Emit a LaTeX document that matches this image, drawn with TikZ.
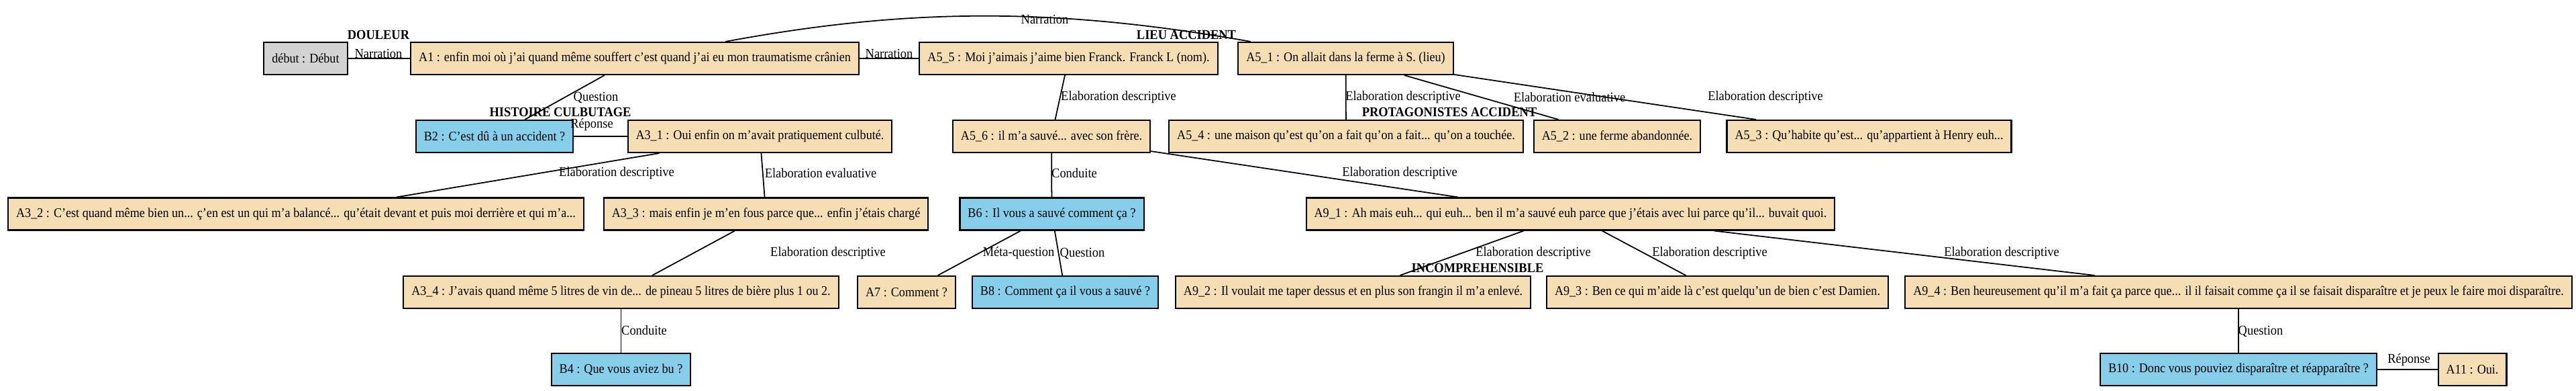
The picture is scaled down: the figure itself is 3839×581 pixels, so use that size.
\documentclass[tikz,border=0pt]{standalone}
\usepackage{fontspec}
\setmainfont{Liberation Serif}[FakeStretch=0.92]
\usetikzlibrary{positioning}
\definecolor{wheat}{HTML}{F5DEB3}
\definecolor{skyblue}{HTML}{87CEEB}
\definecolor{lgray}{HTML}{D3D3D3}
\tikzstyle{unit}=[rectangle, draw=black, line width=0.6pt, minimum height=0.48cm, inner xsep=0.12cm, inner ysep=0pt, font=\fontsize{5.6}{6}\selectfont]
\tikzstyle{arg}=[unit, fill=wheat]
\tikzstyle{qst}=[unit, fill=skyblue]
\tikzstyle{debutnode}=[unit, fill=lgray]
\tikzstyle{lbl}=[inner sep=0pt, font=\fontsize{5.7}{6}\selectfont]
\tikzstyle{tag}=[inner sep=0pt, font=\fontsize{5.7}{6}\selectfont\bfseries]
\tikzstyle{l1}=[line width=0.5pt]

\begin{document}
\begin{tikzpicture}[x=0.01cm, y=-0.01cm]
    \useasboundingbox (0,0) rectangle (3839,581);
    \node[debutnode] at (455.5,87) (debut) {début : Début};
    \node[arg] at (946,87) (a1) {A1 : enfin moi où j'ai quand même souffert c'est quand j'ai eu mon traumatisme crânien};
    \node[arg] at (1592.5,87) (a55) {A5\_5 : Moi j'aimais j’aime bien Franck. Franck L (nom).};
    \node[arg] at (2005.5,87) (a51) {A5\_1 : On allait dans la ferme à S. (lieu)};
    \node[qst] at (737,203) (b2) {B2 : C'est dû à un accident ?};
    \node[arg] at (1132.5,203) (a31) {A3\_1 : Oui enfin on m’avait pratiquement culbuté.};
    \node[arg] at (1567,203) (a56) {A5\_6 : il m'a sauvé... avec son frère.};
    \node[arg] at (2006,203) (a54) {A5\_4 : une maison qu’est qu'on a fait qu'on a fait... qu’on a touchée.};
    \node[arg] at (2410,203) (a52) {A5\_2 : une ferme abandonnée.};
    \node[arg] at (2785.5,203) (a53) {A5\_3 : Qu’habite qu’est... qu’appartient à Henry euh...};
    \node[arg] at (441,318.5) (a32) {A3\_2 : C’est quand même bien un...  ç'en est un qui m'a balancé... qu'était devant et puis moi derrière et qui m’a...};
    \node[arg] at (1141.5,318.5) (a33) {A3\_3 : mais enfin je m’en fous parce que... enfin j'étais chargé};
    \node[qst] at (1567.5,318.5) (b6) {B6 : Il vous a sauvé comment ça ?};
    \node[arg] at (2340.5,318.5) (a91) {A9\_1 : Ah mais euh... qui euh... ben il m'a sauvé euh parce que j'étais avec lui parce qu'il... buvait quoi.};
    \node[arg] at (925.5,435) (a34) {A3\_4 : J'avais quand même 5 litres de vin de... de pineau 5 litres de bière plus 1 ou 2.};
    \node[arg] at (1351,435) (a7) {A7 : Comment ?};
    \node[qst] at (1587.5,435) (b8) {B8 : Comment ça il vous a sauvé ?};
    \node[arg] at (2016.5,435) (a92) {A9\_2 : Il voulait me taper dessus et en plus son frangin il m'a enlevé.};
    \node[arg] at (2559.5,435) (a93) {A9\_3 : Ben ce qui m'aide là c'est quelqu'un de bien c'est Damien.};
    \node[arg] at (3336,435) (a94) {A9\_4 : Ben heureusement qu'il m'a fait ça parce que... il il faisait comme ça il se faisait disparaître et je peux le faire moi disparaître.};
    \node[qst] at (925.5,550) (b4) {B4 : Que vous aviez bu ?};
    \node[qst] at (3336,550) (b10) {B10 : Donc vous pouviez disparaître et réapparaître ?};
    \node[arg] at (3684.5,550) (a11) {A11 : Oui.};

    \draw[l1] (debut) -- (a1);
    \draw[l1] (a1) -- (a55);
    \draw[l1] (a1) .. controls (1356,11) and (1576,11) .. (a51);
    \draw[l1] (a1) -- (b2);
    \draw[l1] (b2) -- (a31);
    \draw[l1] (a55) -- (a56);
    \draw[l1] (a51) -- (a54);
    \draw[l1] (a51) -- (a52);
    \draw[l1] (a51) -- (a53);
    \draw[l1] (a31) -- (a32);
    \draw[l1] (a31) -- (a33);
    \draw[l1] (a56) -- (b6);
    \draw[l1] (a56) -- (a91);
    \draw[l1] (a33) -- (a34);
    \draw[l1] (b6) -- (a7);
    \draw[l1] (b6) -- (b8);
    \draw[l1] (a91) -- (a92);
    \draw[l1] (a91) -- (a93);
    \draw[l1] (a91) -- (a94);
    \draw[l1] (a34) -- (b4);
    \draw[l1] (a94) -- (b10);
    \draw[l1] (b10) -- (a11);

    \node[tag] at (564,52) (t1) {DOULEUR};
    \node[tag] at (1768,52) (t2) {LIEU ACCIDENT};
    \node[tag] at (835,167) (t3) {HISTOIRE CULBUTAGE};
    \node[tag] at (2160,167) (t4) {PROTAGONISTES ACCIDENT};
    \node[tag] at (2202,399) (t5) {INCOMPREHENSIBLE};

    \node[lbl] at (564,80) (e1) {Narration};
    \node[lbl] at (1325,80) (e2) {Narration};
    \node[lbl] at (1557,29) (e3) {Narration};
    \node[lbl] at (888,145) (e4) {Question};
    \node[lbl] at (882,186) (e5) {Réponse};
    \node[lbl] at (1667,145) (e6) {Elaboration descriptive};
    \node[lbl] at (2091,145) (e7) {Elaboration descriptive};
    \node[lbl] at (2339,145) (e8) {Elaboration evaluative};
    \node[lbl] at (2631,145) (e9) {Elaboration descriptive};
    \node[lbl] at (919,258) (e10) {Elaboration descriptive};
    \node[lbl] at (1223,258) (e11) {Elaboration evaluative};
    \node[lbl] at (1601,258) (e12) {Conduite};
    \node[lbl] at (2086,258) (e13) {Elaboration descriptive};
    \node[lbl] at (1234,377) (e14) {Elaboration descriptive};
    \node[lbl] at (1518,377) (e15) {Méta-question};
    \node[lbl] at (1613,377) (e16) {Question};
    \node[lbl] at (2285,377) (e17) {Elaboration descriptive};
    \node[lbl] at (2548,377) (e18) {Elaboration descriptive};
    \node[lbl] at (2983,377) (e19) {Elaboration descriptive};
    \node[lbl] at (960,492) (e20) {Conduite};
    \node[lbl] at (3369,493) (e21) {Question};
    \node[lbl] at (3590,536) (e22) {Réponse};
\end{tikzpicture}
\end{document}
